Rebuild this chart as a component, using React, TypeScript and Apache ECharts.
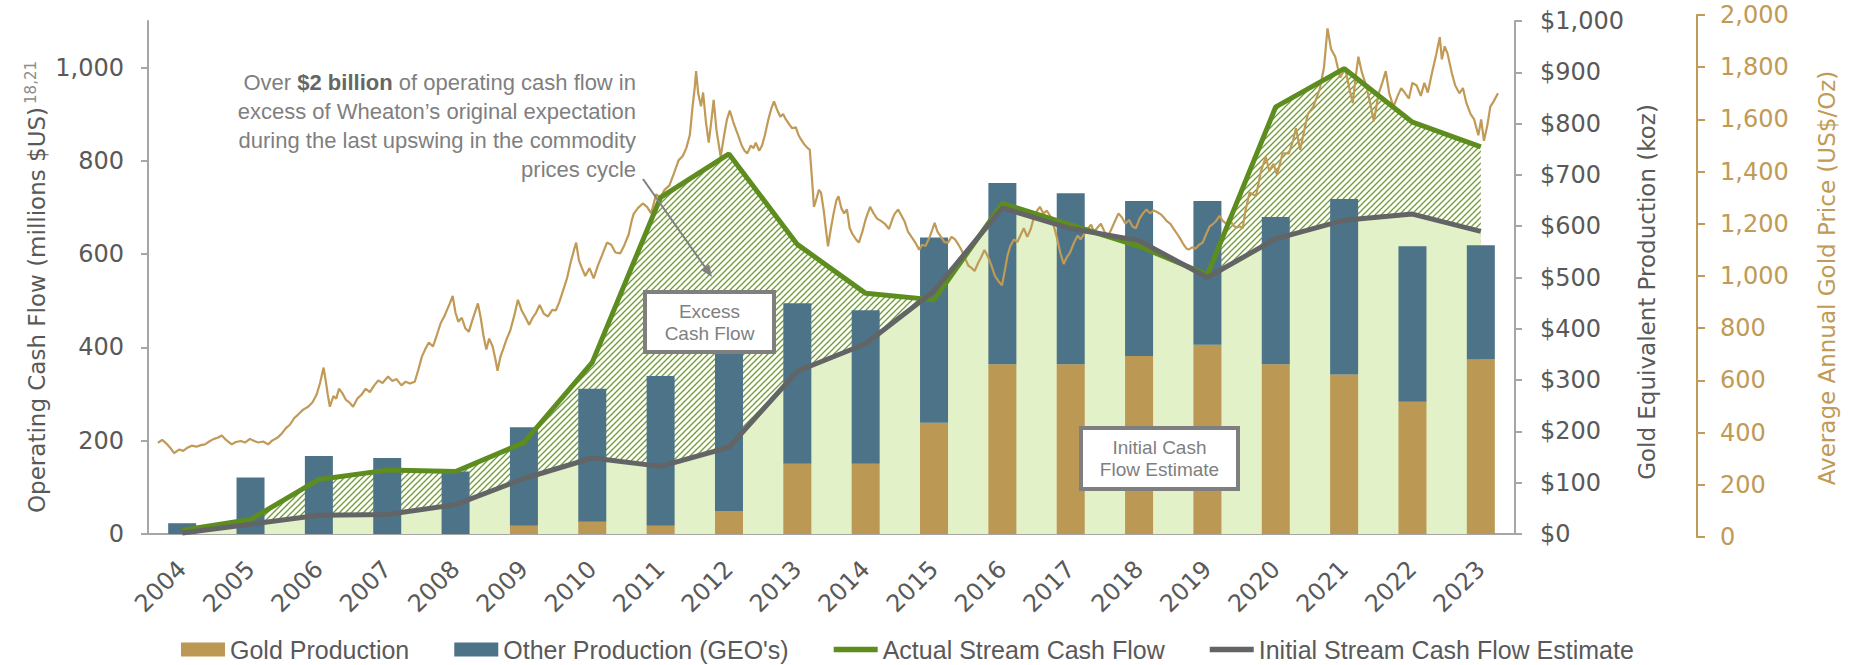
import React, { useEffect, useRef } from 'react';
import * as echarts from 'echarts';

const YEARS = ['2004','2005','2006','2007','2008','2009','2010','2011','2012','2013','2014','2015','2016','2017','2018','2019','2020','2021','2022','2023'];
// Gold equivalent production (koz)
const GOLD_PRODUCTION = [0, 0, 0, 0, 0, 16, 24, 16, 45, 137, 137, 217, 331, 331, 347, 369, 331, 311, 258, 340];
const OTHER_PRODUCTION = [21, 110, 152, 148, 122, 192, 259, 292, 355, 313, 299, 361, 353, 333, 302, 280, 287, 342, 303, 223];
// Operating cash flow (millions $US)
const ACTUAL_CASH_FLOW = [8, 31, 117, 137, 134, 196, 368, 722, 815, 621, 516, 502, 709, 663, 617, 556, 916, 998, 883, 830];
const INITIAL_CASH_FLOW = [2, 21, 40, 42, 63, 119, 163, 145, 186, 349, 408, 521, 699, 655, 629, 550, 633, 673, 686, 649];
const CASH_FLOW_TICKS = [0, 200, 400, 600, 800, 1000];
// Gold price history [year, US$/oz] as drawn
const GOLD_PRICE_HISTORY: [number, number][] = [
[2004.00,361],[2004.06,372],[2004.12,358],[2004.18,340],[2004.23,321],[2004.30,335],[2004.36,330],[2004.42,342],[2004.48,350],[2004.55,346],[2004.61,352],[2004.67,355],[2004.73,366],[2004.79,375],[2004.85,380],[2004.91,389],[2004.97,372],
[2005.05,355],[2005.11,364],[2005.18,368],[2005.24,362],[2005.31,376],[2005.37,368],[2005.43,362],[2005.50,366],[2005.57,355],[2005.63,370],[2005.70,380],[2005.76,395],[2005.82,416],[2005.88,430],[2005.94,455],
[2006.00,470],[2006.07,488],[2006.14,499],[2006.20,515],[2006.26,545],[2006.31,590],[2006.36,649],[2006.39,600],[2006.42,545],[2006.45,499],[2006.50,540],[2006.54,530],[2006.58,568],[2006.63,550],[2006.68,525],[2006.73,515],[2006.78,499],[2006.84,530],[2006.90,545],[2006.96,568],
[2007.02,555],[2007.08,580],[2007.14,600],[2007.20,590],[2007.28,615],[2007.34,598],[2007.40,605],[2007.47,581],[2007.53,595],[2007.59,588],[2007.66,595],[2007.71,640],[2007.76,690],[2007.81,720],[2007.86,745],[2007.92,730],[2007.97,770],
[2008.03,820],[2008.08,845],[2008.12,870],[2008.16,895],[2008.20,924],[2008.24,860],[2008.28,825],[2008.33,840],[2008.38,800],[2008.43,786],[2008.48,830],[2008.53,870],[2008.56,895],[2008.60,840],[2008.64,770],[2008.68,718],[2008.72,760],[2008.77,730],[2008.81,680],[2008.84,637],[2008.88,690],[2008.92,720],[2008.97,759],
[2009.02,790],[2009.08,850],[2009.13,909],[2009.18,870],[2009.24,840],[2009.29,813],[2009.34,840],[2009.39,860],[2009.44,889],[2009.50,855],[2009.56,845],[2009.62,870],[2009.67,868],[2009.72,900],[2009.78,950],[2009.83,991],[2009.88,1050],[2009.93,1100],[2009.96,1128],
[2010.00,1060],[2010.04,1032],[2010.09,1000],[2010.15,1030],[2010.21,991],[2010.27,1040],[2010.33,1080],[2010.40,1128],[2010.46,1120],[2010.52,1090],[2010.59,1087],[2010.65,1120],[2010.71,1160],[2010.75,1210],[2010.78,1238],[2010.84,1260],[2010.91,1278],[2010.97,1265],
[2011.03,1240],[2011.10,1313],[2011.16,1300],[2011.22,1330],[2011.29,1347],[2011.35,1390],[2011.42,1443],[2011.48,1460],[2011.53,1490],[2011.58,1539],[2011.62,1650],[2011.65,1720],[2011.67,1785],[2011.70,1700],[2011.74,1650],[2011.77,1703],[2011.81,1590],[2011.85,1511],[2011.89,1600],[2011.92,1675],[2011.96,1560],
[2012.02,1457],[2012.07,1540],[2012.11,1600],[2012.15,1634],[2012.20,1590],[2012.24,1560],[2012.27,1539],[2012.32,1500],[2012.36,1480],[2012.40,1470],[2012.45,1500],[2012.49,1490],[2012.52,1511],[2012.57,1480],[2012.61,1500],[2012.65,1539],[2012.70,1600],[2012.74,1640],[2012.78,1669],[2012.82,1640],[2012.87,1610],[2012.91,1621],[2012.95,1600],
[2013.00,1580],[2013.04,1566],[2013.09,1570],[2013.13,1540],[2013.16,1525],[2013.21,1505],[2013.26,1490],[2013.29,1484],[2013.32,1380],[2013.35,1265],[2013.39,1300],[2013.42,1330],[2013.45,1320],[2013.49,1250],[2013.52,1180],[2013.55,1114],[2013.59,1180],[2013.63,1240],[2013.67,1290],[2013.70,1306],[2013.74,1260],[2013.78,1240],[2013.82,1255],[2013.86,1183],[2013.90,1160],[2013.95,1140],[2013.99,1128],
[2014.04,1170],[2014.09,1220],[2014.15,1265],[2014.20,1240],[2014.25,1220],[2014.31,1210],[2014.36,1200],[2014.42,1180],[2014.47,1220],[2014.50,1238],[2014.55,1255],[2014.60,1230],[2014.64,1210],[2014.69,1170],[2014.74,1150],[2014.79,1130],[2014.85,1101],[2014.89,1120],[2014.94,1115],
[2015.00,1150],[2015.04,1180],[2015.07,1204],[2015.11,1170],[2015.16,1150],[2015.21,1130],[2015.26,1128],[2015.31,1150],[2015.36,1140],[2015.41,1120],[2015.45,1101],[2015.50,1070],[2015.55,1040],[2015.60,1030],[2015.64,1019],[2015.69,1050],[2015.73,1070],[2015.78,1100],[2015.83,1074],[2015.88,1040],[2015.93,1000],[2015.98,980],
[2016.03,964],[2016.07,1020],[2016.11,1080],[2016.15,1116],[2016.20,1140],[2016.25,1130],[2016.30,1160],[2016.34,1183],[2016.39,1150],[2016.44,1180],[2016.49,1230],[2016.53,1250],[2016.57,1265],[2016.62,1240],[2016.67,1250],[2016.73,1224],[2016.77,1190],[2016.81,1150],[2016.86,1090],[2016.91,1046],[2016.95,1070],
[2017.00,1090],[2017.06,1130],[2017.11,1155],[2017.15,1140],[2017.20,1160],[2017.25,1180],[2017.30,1197],[2017.34,1170],[2017.39,1185],[2017.44,1200],[2017.49,1170],[2017.54,1150],[2017.59,1180],[2017.64,1210],[2017.69,1240],[2017.74,1224],[2017.79,1200],[2017.84,1215],[2017.89,1190],[2017.94,1183],[2017.99,1220],
[2018.04,1240],[2018.09,1255],[2018.14,1240],[2018.19,1251],[2018.24,1245],[2018.30,1235],[2018.35,1220],[2018.38,1210],[2018.43,1200],[2018.48,1180],[2018.53,1160],[2018.57,1143],[2018.62,1120],[2018.66,1105],[2018.69,1101],[2018.74,1110],[2018.79,1105],[2018.84,1120],[2018.89,1128],[2018.94,1160],[2018.99,1190],
[2019.04,1200],[2019.08,1210],[2019.13,1230],[2019.18,1210],[2019.23,1200],[2019.27,1224],[2019.32,1195],[2019.37,1185],[2019.42,1190],[2019.46,1183],[2019.50,1250],[2019.56,1320],[2019.65,1306],[2019.72,1400],[2019.79,1457],[2019.84,1402],[2019.90,1430],[2019.95,1388],
[2020.03,1470],[2020.12,1470],[2020.18,1520],[2020.22,1566],[2020.28,1484],[2020.34,1560],[2020.39,1621],[2020.47,1650],[2020.56,1717],[2020.62,1800],[2020.67,1949],[2020.72,1870],[2020.78,1840],[2020.85,1760],[2020.92,1798],[2020.98,1720],
[2021.03,1662],[2021.07,1760],[2021.11,1840],[2021.16,1780],[2021.22,1730],[2021.28,1660],[2021.33,1593],[2021.40,1700],[2021.45,1740],[2021.50,1785],[2021.55,1700],[2021.61,1648],[2021.67,1690],[2021.72,1720],[2021.77,1703],[2021.83,1680],[2021.88,1740],[2021.94,1730],
[2022.00,1690],[2022.05,1740],[2022.10,1703],[2022.16,1780],[2022.22,1850],[2022.27,1915],[2022.30,1830],[2022.34,1880],[2022.38,1853],[2022.44,1780],[2022.49,1730],[2022.55,1700],[2022.60,1720],[2022.65,1662],[2022.71,1620],[2022.76,1600],[2022.82,1539],[2022.86,1600],[2022.90,1518],[2022.95,1580],[2022.99,1648],
[2023.04,1670],[2023.10,1700]
];

const TAN = '#BB9853';
const BLUE = '#4D7388';
const LIGHT_GREEN = '#E3F1C8';
const GREEN = '#5E8D1F';
const GREY_LINE = '#636466';
const GOLD_LINE = '#C09A56';
const AXIS_GREY = '#A6A6A6';
const TEXT_GREY = '#595959';
const NOTE_GREY = '#7F7F7F';
const NUM_FONT = "'DejaVu Sans', sans-serif";
const TXT_FONT = "'Liberation Sans', Arial, sans-serif";
const LINE_ICON = 'path://M0,0H48V6H0Z';

function makeHatch(): HTMLCanvasElement {
  const c = document.createElement('canvas');
  c.width = 6;
  c.height = 6;
  const ctx = c.getContext('2d') as CanvasRenderingContext2D;
  ctx.fillStyle = '#ffffff';
  ctx.fillRect(0, 0, 6, 6);
  ctx.strokeStyle = '#6F9C30';
  ctx.lineWidth = 1.3;
  ctx.beginPath();
  ctx.moveTo(-1, 7); ctx.lineTo(7, -1);
  ctx.moveTo(-1, 1); ctx.lineTo(1, -1);
  ctx.moveTo(5, 7); ctx.lineTo(7, 5);
  ctx.stroke();
  return c;
}

export default function App() {
  const ref = useRef<HTMLDivElement>(null);
  useEffect(() => {
    document.body.style.margin = '0';
    const chart = echarts.init(ref.current as HTMLDivElement, undefined, { renderer: 'svg' });
    const hatch = makeHatch();
    const fmt = (v: number) => v.toLocaleString('en-US');
    const option: any = {
      animation: false,
      backgroundColor: '#ffffff',
      grid: [
        { left: 148, right: 342, top: 21, bottom: 131 },
        { left: 158, right: 359, top: 15, bottom: 128 },
      ],
      xAxis: [
        {
          type: 'category', gridIndex: 0, data: YEARS, boundaryGap: true,
          axisLine: { lineStyle: { color: AXIS_GREY, width: 2 } },
          axisTick: { length: 7, lineStyle: { color: AXIS_GREY, width: 2 } },
          axisLabel: { rotate: 45, margin: 31, color: TEXT_GREY, fontSize: 24, fontFamily: NUM_FONT },
        },
        { type: 'value', gridIndex: 1, min: 2004, max: 2023.1, show: false },
      ],
      yAxis: [
        {
          type: 'value', gridIndex: 0, min: 0, max: 1100, interval: 200, position: 'left',
          axisLine: { show: true, lineStyle: { color: AXIS_GREY, width: 2 } },
          axisTick: { show: true, length: 7, customValues: CASH_FLOW_TICKS, lineStyle: { color: AXIS_GREY, width: 2 } },
          axisLabel: { customValues: CASH_FLOW_TICKS, margin: 24, color: TEXT_GREY, fontSize: 24, fontFamily: NUM_FONT, formatter: (v: number) => fmt(v) },
          splitLine: { show: false },
        },
        {
          type: 'value', gridIndex: 0, min: 0, max: 1000, interval: 100, position: 'right',
          axisLine: { show: true, lineStyle: { color: AXIS_GREY, width: 2 } },
          axisTick: { show: true, length: 7, lineStyle: { color: AXIS_GREY, width: 2 } },
          axisLabel: { margin: 25, color: TEXT_GREY, fontSize: 24, fontFamily: NUM_FONT, formatter: (v: number) => '$' + fmt(v) },
          splitLine: { show: false },
        },
        {
          type: 'value', gridIndex: 1, min: 0, max: 2000, interval: 200, position: 'right', offset: 199,
          axisLine: { show: true, lineStyle: { color: GOLD_LINE, width: 2 } },
          axisTick: { show: true, length: 8, lineStyle: { color: GOLD_LINE, width: 2 } },
          axisLabel: { margin: 23, color: GOLD_LINE, fontSize: 24, fontFamily: NUM_FONT, formatter: (v: number) => fmt(v) },
          splitLine: { show: false },
        },
      ],
      legend: {
        left: 181, top: 637, padding: 0, itemWidth: 44, itemHeight: 14, itemGap: 45,
        textStyle: { color: TEXT_GREY, fontSize: 25, fontFamily: TXT_FONT },
        data: [
          { name: 'Gold Production', icon: 'rect' },
          { name: "Other Production (GEO's)", icon: 'rect' },
          { name: 'Actual Stream Cash Flow', icon: LINE_ICON },
          { name: 'Initial Stream Cash Flow Estimate', icon: LINE_ICON },
        ],
      },
      series: [
        {
          name: 'Excess Cash Flow Area', type: 'line', xAxisIndex: 0, yAxisIndex: 0, data: ACTUAL_CASH_FLOW,
          symbol: 'none', silent: true, z: 1,
          lineStyle: { width: 0, opacity: 0 },
          areaStyle: { opacity: 1, color: { image: hatch, repeat: 'repeat', imageWidth: 6, imageHeight: 6 } },
        },
        {
          name: 'Initial Cash Flow Area', type: 'line', xAxisIndex: 0, yAxisIndex: 0, data: INITIAL_CASH_FLOW,
          symbol: 'none', silent: true, z: 1,
          lineStyle: { width: 0, opacity: 0 },
          areaStyle: { opacity: 1, color: LIGHT_GREEN },
        },
        {
          name: 'Gold Production', type: 'bar', stack: 'prod', xAxisIndex: 0, yAxisIndex: 1, data: GOLD_PRODUCTION,
          barWidth: 28, itemStyle: { color: TAN }, z: 2,
        },
        {
          name: "Other Production (GEO's)", type: 'bar', stack: 'prod', xAxisIndex: 0, yAxisIndex: 1, data: OTHER_PRODUCTION,
          barWidth: 28, itemStyle: { color: BLUE }, z: 2,
        },
        {
          name: 'Gold Price', type: 'line', xAxisIndex: 1, yAxisIndex: 2, data: GOLD_PRICE_HISTORY,
          symbol: 'none', z: 3, lineStyle: { color: GOLD_LINE, width: 2.2 }, itemStyle: { color: GOLD_LINE },
        },
        {
          name: 'Actual Stream Cash Flow', type: 'line', xAxisIndex: 0, yAxisIndex: 0, data: ACTUAL_CASH_FLOW,
          symbol: 'none', z: 4, lineStyle: { color: GREEN, width: 5 }, itemStyle: { color: GREEN },
        },
        {
          name: 'Initial Stream Cash Flow Estimate', type: 'line', xAxisIndex: 0, yAxisIndex: 0, data: INITIAL_CASH_FLOW,
          symbol: 'none', z: 4, lineStyle: { color: GREY_LINE, width: 5 }, itemStyle: { color: GREY_LINE },
        },
      ],
      graphic: [
        {
          type: 'text', x: 37, y: 287, rotation: Math.PI / 2, z: 100,
          style: {
            text: 'Operating Cash Flow (millions $US){sup|18,21}',
            fill: TEXT_GREY, font: `23px ${NUM_FONT}`, align: 'center', verticalAlign: 'middle',
            rich: { sup: { fontSize: 15, fill: '#8c8c8c', fontFamily: NUM_FONT, verticalAlign: 'top', padding: [0, 0, 12, 3] } },
          },
        },
        {
          type: 'text', x: 1647, y: 292, rotation: Math.PI / 2, z: 100,
          style: { text: 'Gold Equivalent Production (koz)', fill: TEXT_GREY, font: `23px ${NUM_FONT}`, align: 'center', verticalAlign: 'middle' },
        },
        {
          type: 'text', x: 1827, y: 278, rotation: Math.PI / 2, z: 100,
          style: { text: 'Average Annual Gold Price (US$/Oz)', fill: GOLD_LINE, font: `23px ${NUM_FONT}`, align: 'center', verticalAlign: 'middle' },
        },
        {
          type: 'text', x: 636, y: 68, z: 100,
          style: {
            text: 'Over {b|$2 billion} of operating cash flow in\nexcess of Wheaton\u2019s original expectation\nduring the last upswing in the commodity\nprices cycle',
            fill: NOTE_GREY, font: `22px ${TXT_FONT}`, align: 'right', verticalAlign: 'top', lineHeight: 29,
            rich: { b: { fontWeight: 'bold', fill: '#666666', fontSize: 22, fontFamily: TXT_FONT, lineHeight: 29 } },
          },
        },
        { type: 'line', z: 100, shape: { x1: 643, y1: 179, x2: 707, y2: 270 }, style: { stroke: '#808080', lineWidth: 2 } },
        { type: 'polygon', z: 100, shape: { points: [[712, 277], [701, 270.1], [709.2, 264.3]] }, style: { fill: '#808080' } },
        { type: 'rect', z: 100, shape: { x: 645, y: 292, width: 129, height: 60 }, style: { fill: '#ffffff', stroke: NOTE_GREY, lineWidth: 4 } },
        {
          type: 'text', x: 709.5, y: 322, z: 101,
          style: { text: 'Excess\nCash Flow', fill: NOTE_GREY, font: `19px ${TXT_FONT}`, align: 'center', verticalAlign: 'middle', lineHeight: 22 },
        },
        { type: 'rect', z: 100, shape: { x: 1081, y: 428, width: 157, height: 61 }, style: { fill: '#ffffff', stroke: NOTE_GREY, lineWidth: 4 } },
        {
          type: 'text', x: 1159.5, y: 458.5, z: 101,
          style: { text: 'Initial Cash\nFlow Estimate', fill: NOTE_GREY, font: `19px ${TXT_FONT}`, align: 'center', verticalAlign: 'middle', lineHeight: 22 },
        },
      ],
    };
    chart.setOption(option);
    return () => chart.dispose();
  }, []);
  return <div ref={ref} style={{ width: 1857, height: 665 }} />;
}
